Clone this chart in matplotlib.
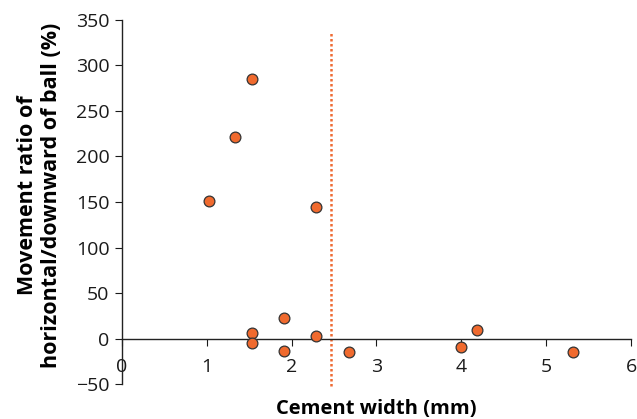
import matplotlib.pyplot as plt

# ======================================
# DATA
# ======================================
cement_width = [1.03, 1.33, 1.53, 1.53, 1.53, 1.91, 1.91, 2.29, 2.29, 2.67, 4.0, 4.19, 5.32]
movement_ratio = [151, 221, 285, 6, -5, 22, -14, 145, 3, -15, -9, 9, -15]
threshold = 2.46

plt.rcParams["font.family"] = ["Open Sans", "DejaVu Sans"]

fig = plt.figure(figsize=(6.37, 4.19), dpi=100)
ax = fig.add_axes([0.1915, 0.0835, 0.7991, 0.8688])

ax.scatter(cement_width, movement_ratio, s=60, color="#F06A2E",
           edgecolor="#333333", linewidth=0.9, zorder=3)
ax.plot([threshold, threshold], [-52, 336], linestyle=(0, (1, 1)),
        color="#EE6A33", linewidth=1.8, zorder=2, clip_on=False)

ax.set_xlim(0, 6)
ax.set_ylim(-50, 350)
ax.set_xticks(range(0, 7))
ax.set_yticks(range(-50, 351, 50))
ax.set_yticklabels([("\u2212" + str(-v)) if v < 0 else str(v) for v in range(-50, 351, 50)])

ax.spines["top"].set_visible(False)
ax.spines["right"].set_visible(False)
ax.spines["bottom"].set_position(("data", 0))
for sp in ["left", "bottom"]:
    ax.spines[sp].set_color("#222222")
    ax.spines[sp].set_linewidth(1.0)

ax.tick_params(axis="x", direction="out", length=5, pad=9, labelsize=14, colors="#1a1a1a")
ax.tick_params(axis="y", direction="out", length=5, pad=4, labelsize=14, colors="#1a1a1a")

ax.set_ylabel("Movement ratio of\nhorizontal/downward of ball (%)",
              fontsize=15.5, fontweight="bold", linespacing=1.2)
ax.yaxis.set_label_coords(-0.118, 0.519)
ax.set_xlabel("Cement width (mm)", fontsize=14.5, fontweight="bold")
ax.xaxis.set_label_coords(0.5, -0.04)

plt.savefig("out.png", dpi=100)
plt.close()
